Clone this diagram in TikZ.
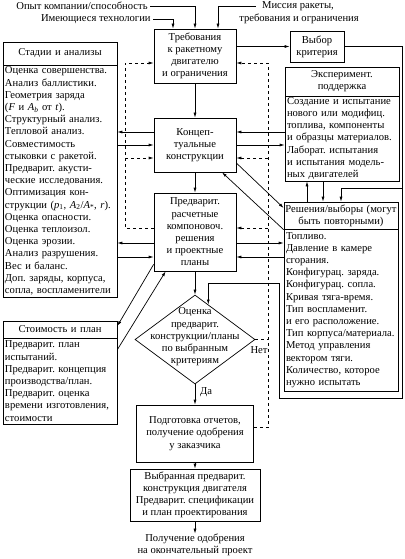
\documentclass[tikz,border=0pt]{standalone}
\usepackage{fontspec}
\setmainfont{Liberation Serif}
\usetikzlibrary{shapes.geometric, arrows.meta, calc}
\frenchspacing

\tikzset{
	txt/.style={font=\fontsize{10.6}{12.2}\selectfont, inner sep=0pt, align=center},
	box/.style={txt, draw},
	hdr/.style={box, minimum width=114, text width=112},
	lst/.style={box, minimum width=114, text width=110, align=left},
}

\begin{document}
\begin{tikzpicture}[x=1pt, y=-1pt, line width=0.7pt, >={Latex[length=5pt, width=3pt]}]
	\useasboundingbox (0, 0) rectangle (404, 559);

	% inputs
	\node[txt, anchor=east, inner xsep=2pt] (opyt) at (150, 6) {Опыт компании/способность};
	\node[txt, anchor=east, inner xsep=2pt] (tech) at (153, 19) {Имеющиеся технологии};
	\node[txt] (miss1) at (298, 6) {Миссия ракеты,};
	\node[txt] (miss2) at (299, 19) {требования и ограничения};

	% main column
	\node[box, minimum width=82, minimum height=54] (trb) at (195, 56) {Требования\\к ракетному\\двигателю\\и ограничения};
	\node[box, minimum width=82, minimum height=54] (kon) at (195, 145) {Концеп-\\туальные\\конструкции};
	\node[box, minimum width=82, minimum height=78] (pre) at (195, 232) {Предварит.\\расчетные\\компоновоч.\\решения\\и проектные\\планы};
	\node[draw, diamond, minimum width=120, minimum height=89, inner sep=0pt] (dia) at (195, 339.5) {};
	\node[txt] (diat) at (195, 337) {Оценка\\предварит.\\конструкции/планы\\по выбранным\\критериям};
	\node[box, minimum width=117, minimum height=57] (prg) at (195, 433.5) {Подготовка отчетов,\\получение одобрения\\у заказчика};
	\node[box, minimum width=130, minimum height=52] (vyb) at (195, 495) {Выбранная предварит.\\конструкция двигателя\\Предварит. спецификации\\и план проектирования};
	\node[txt] (fin) at (195, 545) {Получение одобрения\\на окончательный проект};
	\node[txt] (da) at (206, 392) {Да};
	\node[txt] (net) at (259, 350) {Нет};

	% left column
	\node[hdr, minimum height=23] (stadh) at (60, 53.5) {Стадии и анализы};
	\node[lst, minimum height=232] (stad) at (60, 181) {Оценка совершенства.\\Анализ баллистики.\\Геометрия заряда\\(\textit{F} и \textit{A}\textsubscript{\textit{b}} от \textit{t}).\\Структурный анализ.\\Тепловой анализ.\\Совместимость\\стыковки с ракетой.\\Предварит. акусти-\\ческие исследования.\\Оптимизация кон-\\струкции (\textit{p}\textsubscript{1}, \textit{A}\textsubscript{2}/\textit{A}\textsubscript{*}, \textit{r}).\\Оценка опасности.\\Оценка теплоизол.\\Оценка эрозии.\\Анализ разрушения.\\Вес и баланс.\\Доп. заряды, корпуса,\\сопла, воспламенители};
	\node[hdr, minimum height=17] (stoh) at (60, 329.5) {Стоимость и план};
	\node[lst, minimum height=86] (sto) at (60, 381) {Предварит. план\\испытаний.\\Предварит. концепция\\производства/план.\\Предварит. оценка\\времени изготовления,\\стоимости};

	% right column
	\node[box, minimum width=54, minimum height=31] (vk) at (317, 46.5) {Выбор\\критерия};
	\node[hdr, minimum height=29] (ekh) at (342, 81.5) {Эксперимент.\\поддержка};
	\node[lst, minimum height=85] (ek) at (342, 138.5) {Создание и испытание\\нового или модифиц.\\топлива, компоненты\\и образцы материалов.\\Лаборат. испытания\\и испытания модель-\\ных двигателей};
	\node[hdr, minimum height=27] (reh) at (341, 215.5) {Решения/выборы (могут\\быть повторными)};
	\node[lst, minimum height=162] (re) at (341, 310) {Топливо.\\Давление в камере\\сгорания.\\Конфигурац. заряда.\\Конфигурац. сопла.\\Кривая тяга-время.\\Тип воспламенит.\\и его расположение.\\Тип корпуса/материала.\\Метод управления\\вектором тяги.\\Количество, которое\\нужно испытать};

	% levels and bends
	\coordinate (dl) at (125, 63);
	\coordinate (dr) at (268, 63);
	\coordinate (ka) at (0, 132);
	\coordinate (kb) at (0, 145);
	\coordinate (kc) at (0, 158);
	\coordinate (pa) at (0, 228);
	\coordinate (pb) at (0, 243);
	\coordinate (pc) at (0, 257);
	\coordinate (e1) at (307, 0);
	\coordinate (e2) at (323, 0);
	\coordinate (c1) at (402, 188);
	\coordinate (c2) at (402, 398);
	\coordinate (c3) at (279, 283);
	\coordinate (dc) at ($(dia.north)!0.22!(dia.east)$);

	\draw[->] (opyt.east) -| (trb.north);
	\draw[->] (tech.east) -| ([xshift=-22pt]trb.north);
	\draw[->] ([xshift=-6pt]miss1.west) -| ([xshift=23pt]trb.north);

	\draw[->] (trb) -- (kon);
	\draw[->] (kon) -- (pre);
	\draw[->] (pre) -- (dia);
	\draw[->] (dia) -- (prg);
	\draw[->] (prg) -- (vyb);
	\draw[->] (vyb) -- (fin);

	\draw[->] (trb.east |- vk) -- (vk);
	\draw[->] (vk.east) -| (c1) -| (reh.north);
	\draw[->] (c1) -- (c2) -| (c3) -| (dc);

	\draw[->] (ka -| kon.west) -- (ka -| stad.east);
	\draw[->] (kb -| stad.east) -- (kb -| kon.west);
	\draw[->] (ka -| ek.west) -- (ka -| kon.east);
	\draw[->] (kb -| kon.east) -- (kb -| ek.west);
	\draw[->] (pb -| pre.west) -- (pb -| stad.east);
	\draw[->] (pc -| stad.east) -- (pc -| pre.west);
	\draw[->] (pb -| pre.east) -- (pb -| re.west);
	\draw[->] (pc -| re.west) -- (pc -| pre.east);

	\draw[->] (e1 |- reh.north) -- (e1 |- ek.south);
	\draw[->] (e2 |- ek.south) -- (e2 |- reh.north);

	\draw[->] ([yshift=-18pt]kon.east) -- ([yshift=7.5pt]reh.west);
	\draw[->] ([yshift=-1pt]re.north west) -- ([xshift=27pt]kon.south);
	\draw[->] ([yshift=7pt]pre.south west) -- ([yshift=3.5pt]stoh.east);
	\draw[->] ([yshift=-12pt]sto.north east) -- ([xshift=12pt]pre.south west);

	% feedback
	\draw[dashed, ->] (pa -| pre.west) -| (dl) -- (dl -| trb.west);
	\draw[dashed, ->] (kc -| dl) -- (kc -| kon.west);
	\draw[dashed, ->] ([yshift=6pt]prg.east) -| (dr) -- (dr -| trb.east);
	\draw[dashed, ->] (kc -| dr) -- (kc -| kon.east);
	\draw[dashed, ->] (pa -| dr) -- (pa -| pre.east);
	\draw[dashed] (dia.east) -- (dia.east -| dr);
\end{tikzpicture}
\end{document}
